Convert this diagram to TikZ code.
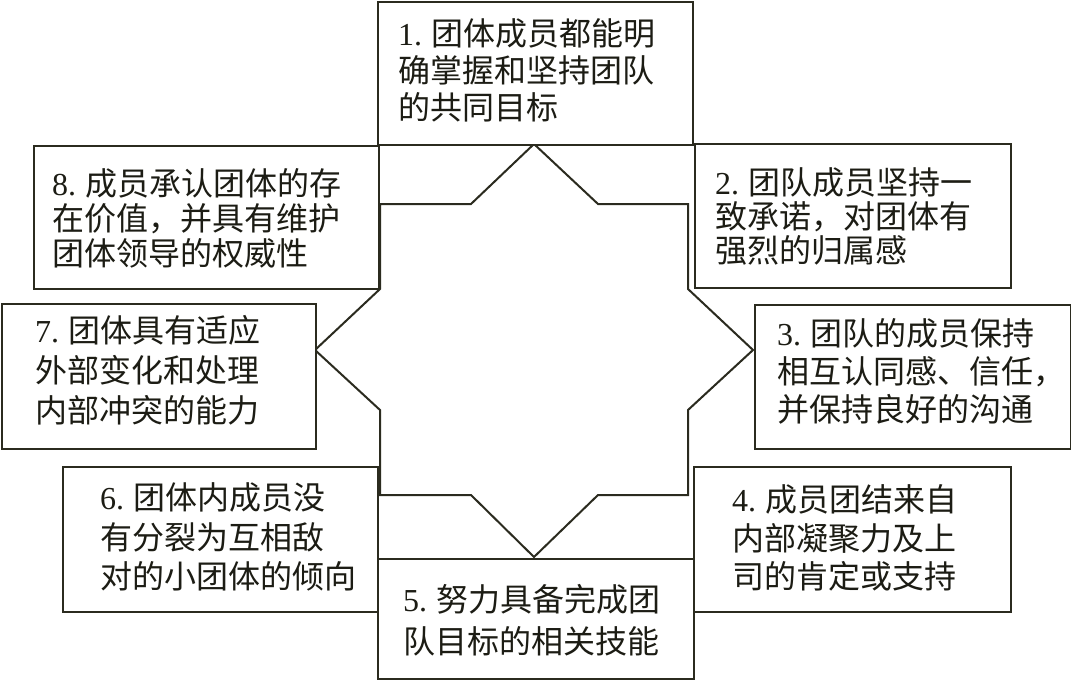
\documentclass[tikz,border=0pt]{standalone}
\usepackage{fontspec}
\setmainfont{Liberation Serif}
\newfontfamily\cjk{Noto Sans CJK SC}
\definecolor{ln}{HTML}{2B2B1F}
\definecolor{tx}{HTML}{1C1C14}
\begin{document}
\begin{tikzpicture}[x=1pt,y=-1pt,
  box/.style={draw=ln, line width=2pt, fill=white, inner sep=0pt, anchor=north west},
  lbl/.style={anchor=west, align=left, inner sep=0pt, text=tx, font=\cjk\fontsize{32}{#1}\selectfont}
]
\fill[white] (0,0) rectangle (1071,683);
\useasboundingbox (0,0) rectangle (1071,683);

% star (square + diamond outline)
\draw[ln, line width=2pt, line join=miter]
  (534,144) -- (598,204) -- (688,204) -- (688,289) -- (753,350) -- (688,410)
  -- (688,495) -- (598,495) -- (534,557) -- (471,495) -- (380,495) -- (380,410)
  -- (315,350) -- (380,289) -- (380,204) -- (471,204) -- cycle;

% boxes
\node[box, minimum width=315pt, minimum height=143pt] (b1) at (377,1) {};
\node[box, minimum width=316pt, minimum height=144pt] (b2) at (694,143) {};
\node[box, minimum width=316pt, minimum height=144pt] (b3) at (754,304) {};
\node[box, minimum width=317pt, minimum height=145pt] (b4) at (693,466) {};
\node[box, minimum width=316pt, minimum height=120pt] (b5) at (377,558) {};
\node[box, minimum width=315pt, minimum height=145pt] (b6) at (62,466) {};
\node[box, minimum width=314pt, minimum height=145pt] (b7) at (1,303) {};
\node[box, minimum width=345pt, minimum height=143pt] (b8) at (33,145) {};

% texts
\node[lbl=37] (t1) at (398,70) {{\rmfamily 1.} 团体成员都能明\\确掌握和坚持团队\\的共同目标};
\node[lbl=34] (t2) at (715,216) {{\rmfamily 2.} 团队成员坚持一\\致承诺，对团体有\\强烈的归属感};
\node[lbl=38] (t3) at (777,371) {{\rmfamily 3.} 团队的成员保持\\相互认同感、信任，\\并保持良好的沟通};
\node[lbl=38.5] (t4) at (732,538) {{\rmfamily 4.} 成员团结来自\\内部凝聚力及上\\司的肯定或支持};
\node[lbl=42] (t5) at (403,620) {{\rmfamily 5.} 努力具备完成团\\队目标的相关技能};
\node[lbl=39.5] (t6) at (100,537) {{\rmfamily 6.} 团体内成员没\\有分裂为互相敌\\对的小团体的倾向};
\node[lbl=40] (t7) at (35,370) {{\rmfamily 7.} 团体具有适应\\外部变化和处理\\内部冲突的能力};
\node[lbl=35] (t8) at (52,218) {{\rmfamily 8.} 成员承认团体的存\\在价值，并具有维护\\团体领导的权威性};
\end{tikzpicture}
\end{document}
